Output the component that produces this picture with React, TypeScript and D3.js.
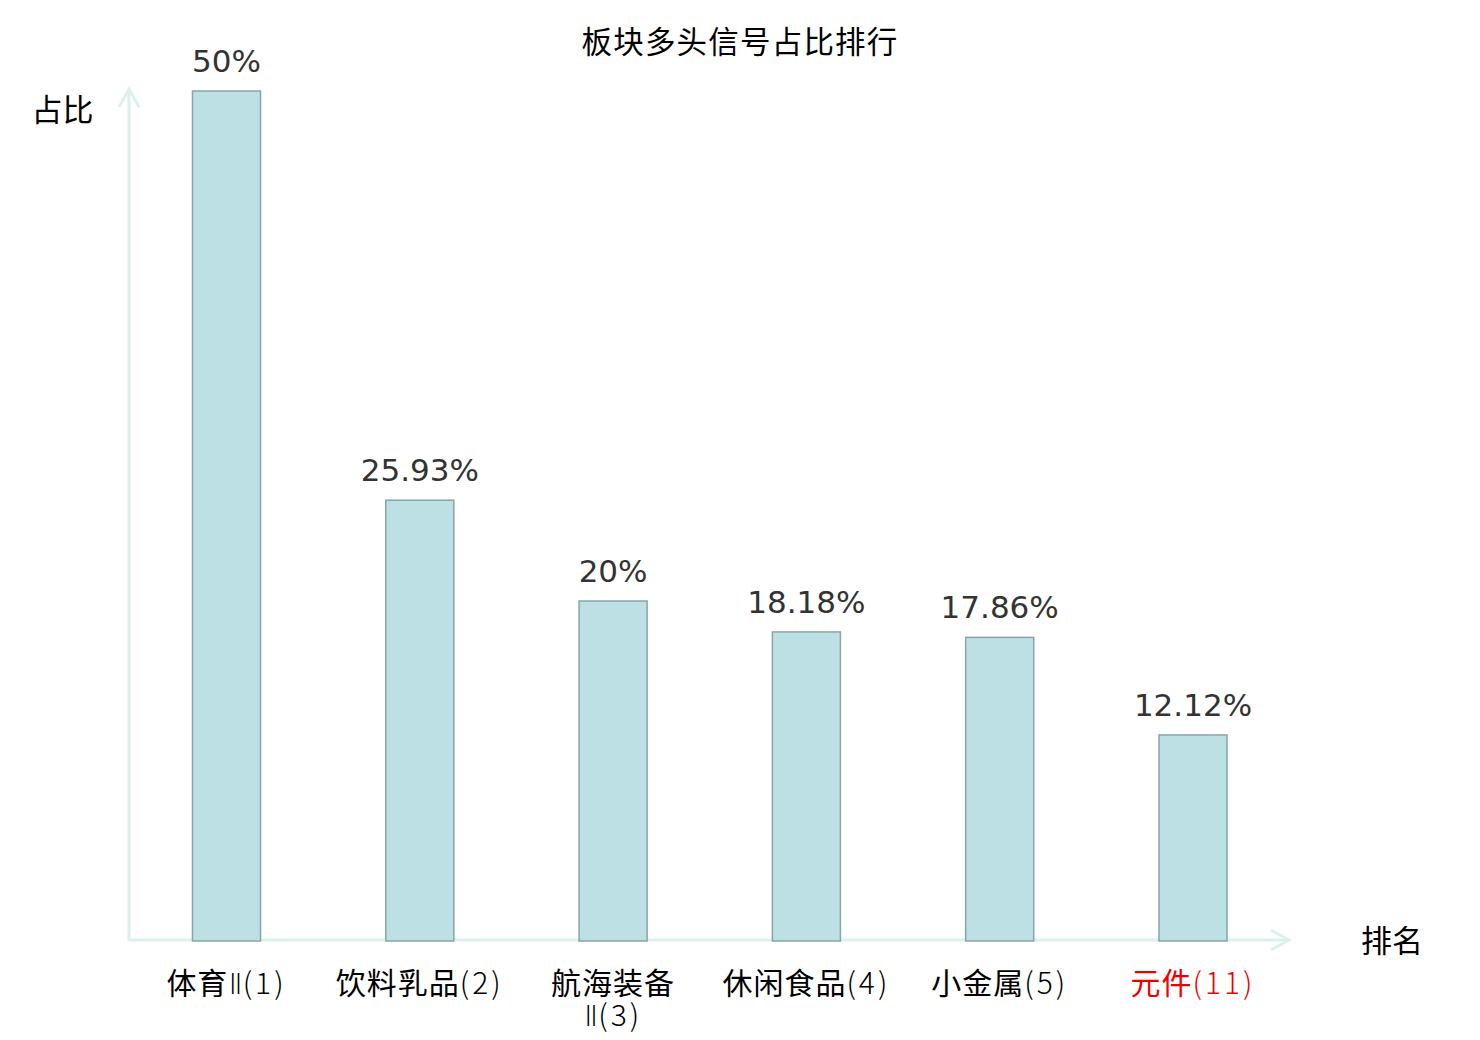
import React from "react";
import * as d3 from "d3";

const categories: string[][] = [
  ["体育Ⅱ(1)"],
  ["饮料乳品(2)"],
  ["航海装备", "Ⅱ(3)"],
  ["休闲食品(4)"],
  ["小金属(5)"],
  ["元件(11)"],
];
const categoryKeys = ["体育Ⅱ", "饮料乳品", "航海装备Ⅱ", "休闲食品", "小金属", "元件"];
const values = [50, 25.93, 20, 18.18, 17.86, 12.12];
const valueLabels = ["50%", "25.93%", "20%", "18.18%", "17.86%", "12.12%"];
const highlighted = [false, false, false, false, false, true];
const title = "板块多头信号占比排行";
const yLabel = "占比";
const xLabel = "排名";

const W = 1480;
const H = 1040;
const CJK = "'Noto Sans CJK SC', 'DejaVu Sans', sans-serif";
const NUM = "'DejaVu Sans', sans-serif";

type Run = { t: string; kind: "cjk" | "roman" | "latin" };
// split a label line into CJK / roman numeral / latin runs
function splitRuns(s: string): Run[] {
  const runs: Run[] = [];
  for (const ch of Array.from(s)) {
    const kind: Run["kind"] = /[\u4e00-\u9fff]/.test(ch)
      ? "cjk"
      : /[\u2160-\u217f]/.test(ch)
      ? "roman"
      : "latin";
    const last = runs[runs.length - 1];
    if (last && last.kind === kind) last.t += ch;
    else runs.push({ t: ch, kind });
  }
  return runs;
}

export default function App() {
  const x = d3.scalePoint<string>().domain(categoryKeys).range([226.5, 1193]);
  const step = x.step();
  const bw = step * 0.352;
  const y = d3.scaleLinear().domain([0, 50]).range([941, 91]);
  const axisColor = "#dcf1ee";
  const x0 = 129;
  const y0 = y(0);

  return (
    <svg
      width={W}
      height={H}
      style={{ position: "absolute", left: 0, top: 0, background: "#fff" }}
    >
      <text
        x={740}
        y={53}
        textAnchor="middle"
        fontFamily={CJK}
        fontSize={30.5}
        letterSpacing={1.2}
        fill="#000"
      >
        {title}
      </text>
      {/* axes */}
      <line x1={x0} y1={y0} x2={x0} y2={89} stroke={axisColor} strokeWidth={3} />
      <polyline
        points={`${x0 - 10},${107} ${x0},${89} ${x0 + 10},${107}`}
        fill="none"
        stroke={axisColor}
        strokeWidth={3}
      />
      <line x1={x0} y1={y0 - 1} x2={1289} y2={y0 - 1} stroke={axisColor} strokeWidth={3} />
      <polyline
        points={`${1271},${y0 - 11} ${1289},${y0 - 1} ${1271},${y0 + 9}`}
        fill="none"
        stroke={axisColor}
        strokeWidth={3}
      />
      <text x={62.5} y={121} textAnchor="middle" fontFamily={CJK} fontSize={31} fill="#000">
        {yLabel}
      </text>
      <text x={1392} y={952} textAnchor="middle" fontFamily={CJK} fontSize={31} fill="#000">
        {xLabel}
      </text>
      {/* bars */}
      {categoryKeys.map((k, i) => {
        const cx = x(k)!;
        return (
          <g key={k}>
            <rect
              x={cx - bw / 2}
              y={y(values[i])}
              width={bw}
              height={y0 - y(values[i])}
              fill="#bce0e3"
              stroke="#8aa5a7"
              strokeWidth={1.5}
            />
            <text
              x={cx}
              y={y(values[i]) - 19}
              textAnchor="middle"
              fontFamily={NUM}
              fontSize={31}
              fill="#333333"
            >
              {valueLabels[i]}
            </text>
            {categories[i].map((line, j) => (
              <text
                key={j}
                x={cx}
                y={994 + j * 32}
                textAnchor="middle"
                fontFamily={CJK}
                fontSize={30}
                fill={highlighted[i] ? "#ee0000" : "#000"}
              >
                {splitRuns(line).map((r, m) =>
                  r.kind === "cjk" ? (
                    <tspan key={m} letterSpacing={1}>
                      {r.t}
                    </tspan>
                  ) : r.kind === "roman" ? (
                    <tspan key={m} fontFamily={NUM} fontWeight={200} fontSize={29}>
                      {r.t}
                    </tspan>
                  ) : (
                    <tspan key={m} fontWeight={300} letterSpacing={3}>
                      {r.t}
                    </tspan>
                  )
                )}
              </text>
            ))}
          </g>
        );
      })}
    </svg>
  );
}
